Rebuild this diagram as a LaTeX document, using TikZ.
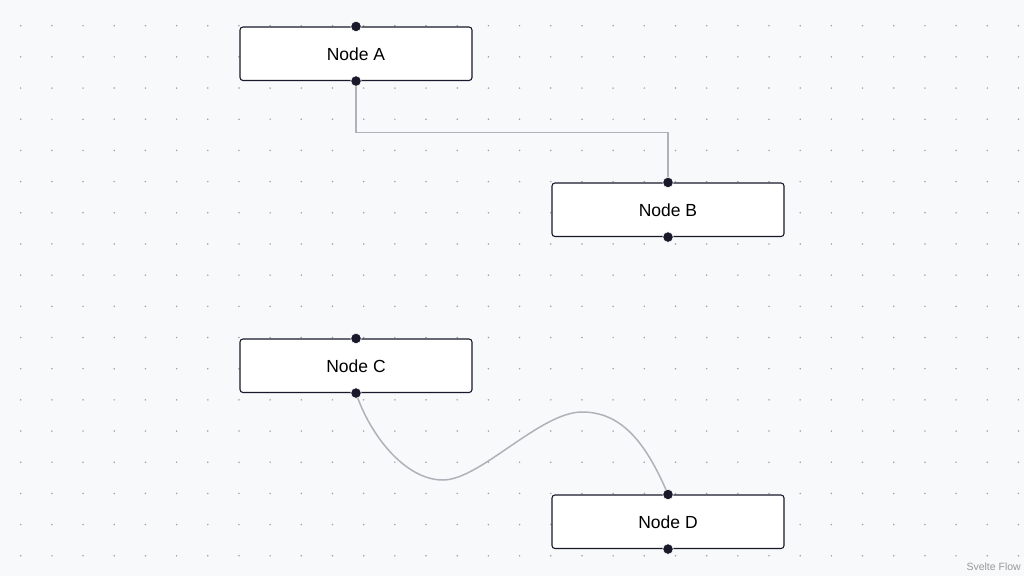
\documentclass[tikz,border=0pt]{standalone}
\usepackage{fontspec}
\setmainfont{Liberation Sans}
\definecolor{bgc}{HTML}{F7F9FB}
\definecolor{dotc}{HTML}{A0A0A8}
\definecolor{edgec}{HTML}{B1B1B7}
\definecolor{inkc}{HTML}{1A192B}
\definecolor{attrc}{HTML}{999999}
\tikzset{
  flownode/.style={draw=inkc, line width=1.1pt, fill=white, rounded corners=3pt,
    minimum width=232pt, minimum height=53.5pt, inner sep=0pt,
    font=\fontsize{17.5}{20}\selectfont, text=black},
  handle/.style={circle, fill=inkc, draw=white, line width=0.6pt, minimum size=10.5pt, inner sep=0pt},
  flowedge/.style={draw=edgec, line width=1.5pt},
}
\begin{document}
\begin{tikzpicture}[x=1pt,y=-1pt]
\useasboundingbox (0,0) rectangle (1024,576);
\fill[bgc] (0,0) rectangle (1024,576);
% dot grid
\foreach \i in {0,...,32} {
  \foreach \j in {0,...,17} {
    \fill[dotc] (20.7+31.18*\i, 25.7+31.18*\j) circle (0.85pt);
  }
}
% nodes
\node[flownode] (A) at (356,53.75) {Node A};
\node[flownode] (B) at (668,209.75) {Node B};
\node[flownode] (C) at (356,365.75) {Node C};
\node[flownode] (D) at (668,521.75) {Node D};
% edges
\draw[flowedge] (A.south) -- ++(0,51.2) -| (B.north);
\draw[flowedge] (C.south) .. controls (370,435) and (405,480) .. (443,480)
  .. controls (480,480) and (540,412) .. (582,412)
  .. controls (620,412) and (645,440) .. (D.north);
% handles
\foreach \n in {A,B,C,D} {
  \node[handle] (\n top) at (\n.north) {};
  \node[handle] (\n bot) at (\n.south) {};
}
% attribution
\node[font=\fontsize{10.5}{12}\selectfont, text=attrc, anchor=east, inner sep=0pt] (attr) at (1021,567) {Svelte Flow};
\end{tikzpicture}
\end{document}
